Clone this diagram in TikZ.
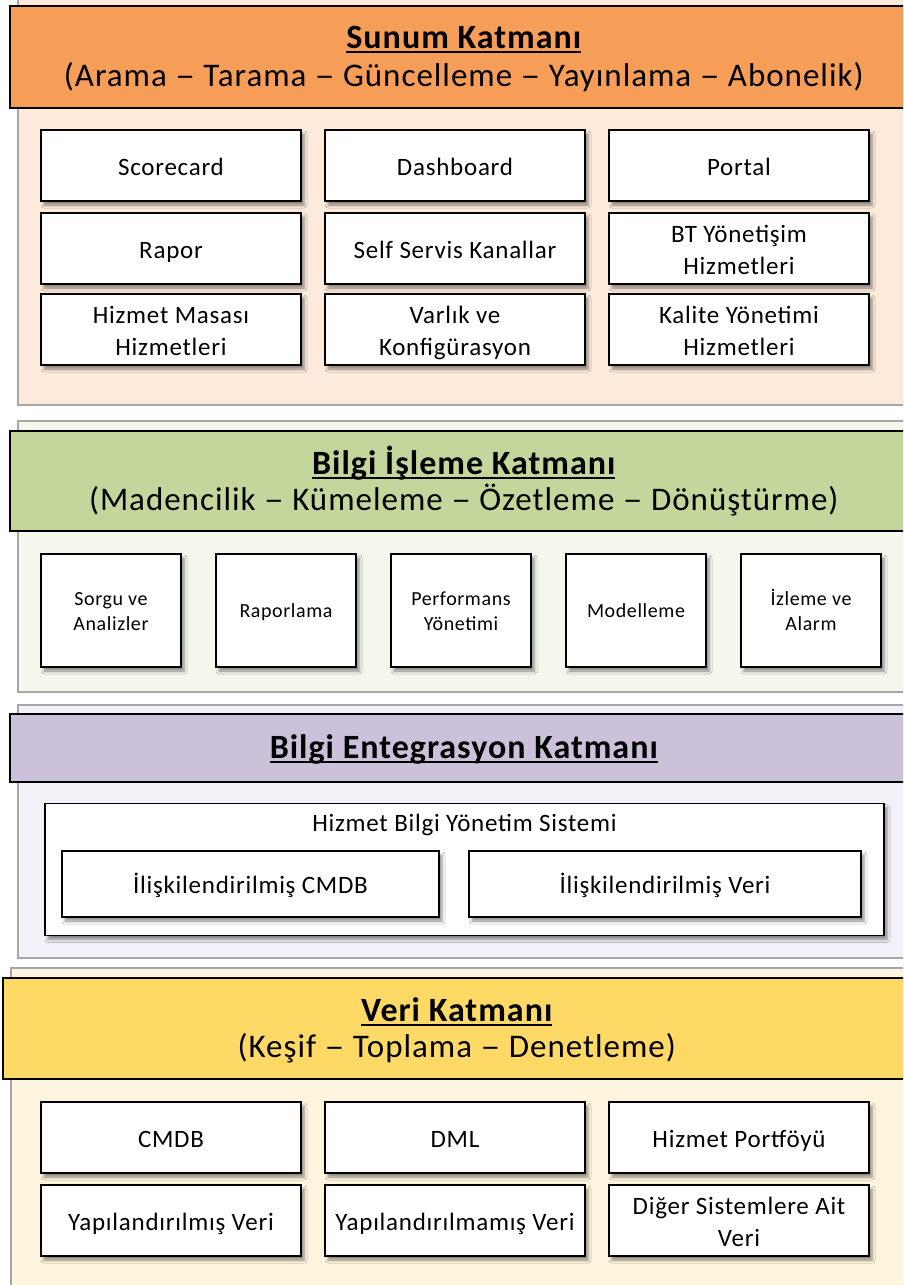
\documentclass[tikz,border=0pt]{standalone}
\usepackage{fontspec}
\setmainfont{Carlito}[LetterSpace=3]
\usetikzlibrary{shadows.blur}

\definecolor{hdrorange}{RGB}{246,157,87}
\definecolor{pnlorange}{RGB}{253,234,219}
\definecolor{hdrgreen}{RGB}{195,214,155}
\definecolor{pnlgreen}{RGB}{243,247,236}
\definecolor{hdrpurple}{RGB}{204,193,218}
\definecolor{pnlpurple}{RGB}{243,241,247}
\definecolor{hdryellow}{RGB}{255,217,102}
\definecolor{pnlyellow}{RGB}{255,245,222}
\definecolor{pnlborder}{RGB}{166,166,166}

\newcommand\hdrtitle{\fontsize{34}{40}\selectfont\bfseries}
\newcommand\hdrsub{\fontsize{33}{40}\selectfont}
\newcommand\boxtxt{\fontsize{25}{32}\selectfont}
\newcommand\smalltxt{\fontsize{20}{24.5}\selectfont}
% struts that keep every line of a box on the same baseline grid
\newcommand\bigstrut{\rule[-6.1pt]{0pt}{32pt}}
\newcommand\smallstrut{\rule[-4.95pt]{0pt}{24.5pt}}
% a slightly wider dash for the subtitles
\newcommand\dsh{\scalebox{1.2}[1]{–}}
% underlined title text: a 2pt rule just below the baseline
\newcommand\ulttl[1]{\setbox0\hbox{#1}\rlap{\rule[-4.5pt]{\wd0}{2pt}}\box0}

\tikzset{
  panel/.style={draw=pnlborder, line width=1.3pt},
  header/.style={draw=black, line width=1.6pt, minimum width=908pt,
    anchor=north west, inner sep=0pt},
  card/.style={draw=black, line width=1.6pt, fill=white, align=center,
    inner sep=2pt,
    blur shadow={shadow xshift=3pt, shadow yshift=-4pt,
      shadow blur radius=3pt, shadow opacity=45}},
  bigtext/.style={font=\boxtxt, execute at end node=\bigstrut},
  bigcard/.style={card, bigtext, minimum width=260pt, minimum height=71pt},
  tallcard/.style={card, minimum width=140pt, minimum height=113pt,
    font=\smalltxt, execute at end node=\smallstrut},
  ttl/.style={font=\hdrtitle, inner sep=0pt, text height=25pt, text depth=5pt},
  subttl/.style={font=\hdrsub, inner sep=0pt, text height=25pt, text depth=8pt},
}

\begin{document}
\begin{tikzpicture}[x=1pt,y=-1pt]
\useasboundingbox (0,0) rectangle (903,1285);
\clip (0,0) rectangle (903,1285);

% ---------- Sunum Katmanı ----------
\path[panel, fill=pnlorange] (18,-3) rectangle (912,405);
\node[header, fill=hdrorange, minimum height=102pt] (h1) at (9,5) {};
\node[ttl] (h1t) at ([yshift=18.5pt]h1.center) {\ulttl{Sunum Katmanı}};
\node[subttl] (h1s) at ([yshift=-21pt]h1.center) {(Arama \dsh{} Tarama \dsh{} Güncelleme \dsh{} Yayınlama \dsh{} Abonelik)};

\node[bigcard] (a11) at (171,165.5) {\bigstrut Scorecard};
\node[bigcard] (a12) at (455,165.5) {\bigstrut Dashboard};
\node[bigcard] (a13) at (739,165.5) {\bigstrut Portal};
\node[bigcard] (a21) at (171,248.5) {\bigstrut Rapor};
\node[bigcard] (a22) at (455,248.5) {\bigstrut Self Servis Kanallar};
\node[bigcard] (a23) at (739,248.5) {\bigstrut BT Yönetişim\\Hizmetleri};
\node[bigcard] (a31) at (171,329.5) {\bigstrut Hizmet Masası\\Hizmetleri};
\node[bigcard] (a32) at (455,329.5) {\bigstrut Varlık ve\\Konfigürasyon};
\node[bigcard] (a33) at (739,329.5) {\bigstrut Kalite Yönetimi\\Hizmetleri};

% ---------- Bilgi İşleme Katmanı ----------
\path[panel, fill=pnlgreen] (18,421) rectangle (912,692);
\node[header, fill=hdrgreen, minimum height=100pt] (h2) at (9,430) {};
\node[ttl] (h2t) at ([yshift=16.75pt]h2.center) {\ulttl{Bilgi İşleme Katmanı}};
\node[subttl] (h2s) at ([yshift=-21pt]h2.center) {(Madencilik \dsh{} Kümeleme \dsh{} Özetleme \dsh{} Dönüştürme)};

\node[tallcard] (b1) at (111,610.5) {\smallstrut Sorgu ve\\Analizler};
\node[tallcard] (b2) at (286,610.5) {\smallstrut Raporlama};
\node[tallcard] (b3) at (461,610.5) {\smallstrut Performans\\Yönetimi};
\node[tallcard] (b4) at (636,610.5) {\smallstrut Modelleme};
\node[tallcard] (b5) at (811,610.5) {\smallstrut İzleme ve\\Alarm};

% ---------- Bilgi Entegrasyon Katmanı ----------
\path[panel, fill=pnlpurple] (18,705) rectangle (912,958);
\node[header, fill=hdrpurple, minimum height=68pt] (h3) at (9,713) {};
\node[ttl] (h3t) at ([yshift=-0.5pt]h3.center) {\ulttl{Bilgi Entegrasyon Katmanı}};

\node[card, minimum width=839pt, minimum height=132pt] (c0) at (464.5,869.5) {};
\node[bigtext, inner sep=0pt] (c0t) at ([yshift=-19pt]c0.north) {\bigstrut Hizmet Bilgi Yönetim Sistemi};
\node[card, bigtext, minimum width=377pt, minimum height=66pt] (c1) at (250.5,884) {\bigstrut İlişkilendirilmiş CMDB};
\node[card, bigtext, minimum width=392pt, minimum height=66pt] (c2) at (665,884) {\bigstrut İlişkilendirilmiş Veri};

% ---------- Veri Katmanı ----------
\path[panel, fill=pnlyellow] (11,968) rectangle (912,1292);
\node[header, fill=hdryellow, minimum height=101pt] (h4) at (2,977) {};
\node[ttl] (h4t) at ([yshift=17pt]h4.center) {\ulttl{Veri Katmanı}};
\node[subttl] (h4s) at ([yshift=-21pt]h4.center) {(Keşif \dsh{} Toplama \dsh{} Denetleme)};

\node[bigcard] (d11) at (171,1137.5) {\bigstrut CMDB};
\node[bigcard] (d12) at (455,1137.5) {\bigstrut DML};
\node[bigcard] (d13) at (739,1137.5) {\bigstrut Hizmet Portföyü};
\node[bigcard] (d21) at (171,1220.5) {\bigstrut Yapılandırılmış Veri};
\node[bigcard] (d22) at (455,1220.5) {\bigstrut Yapılandırılmamış Veri};
\node[bigcard] (d23) at (739,1220.5) {\bigstrut Diğer Sistemlere Ait\\Veri};
\end{tikzpicture}
\end{document}
